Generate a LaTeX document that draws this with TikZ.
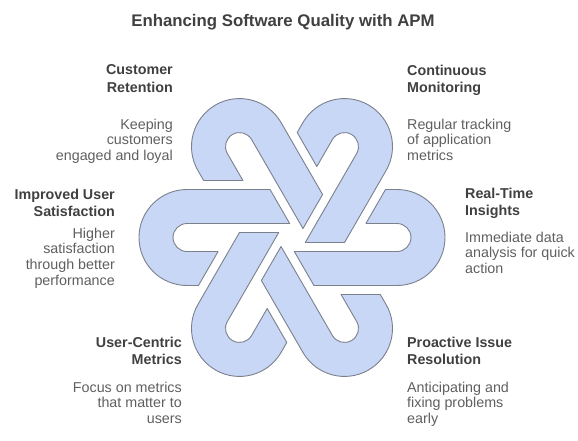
\documentclass[tikz,border=0pt]{standalone}
\usepackage{fontspec}
\setmainfont{Liberation Sans}
\usetikzlibrary{positioning}

\definecolor{hookfill}{RGB}{201,215,246}
\definecolor{hookline}{RGB}{122,128,140}
\definecolor{headgray}{RGB}{64,64,64}
\definecolor{descgray}{RGB}{95,95,95}

\begin{document}
\begin{tikzpicture}[
  x=1pt, y=1pt,
  hook/.style={
    fill=hookfill,
    draw=hookline,
    line width=0.9pt,
    line join=round
  },
  title/.style={
    font=\fontsize{16.8}{20}\selectfont\bfseries,
    text=headgray,
    inner sep=0pt
  },
  head/.style={
    font=\fontsize{14.3}{17.5}\selectfont\bfseries,
    text=headgray,
    inner sep=0pt
  },
  desc/.style={
    font=\fontsize{14.3}{15.8}\selectfont,
    text=descgray,
    inner sep=0pt
  }
]
\useasboundingbox (-292,-202.5) rectangle (286,237.5);
\foreach \k in {0,...,5}{
  \draw[hook,rotate=60*\k] (-21.94,48) -- (-105,48)
    arc[start angle=90,end angle=270,radius=48] -- (-93.53,-48) -- (-73.90,-14) -- (-105,-14)
    arc[start angle=270,end angle=90,radius=14] -- (-2.31,14) -- cycle;
}
\node[title,anchor=base] (title) at (-9,211.5) {Enhancing Software Quality with APM};
\node[head,align=right,anchor=north east] (retention) at (-119,173) {Customer\\Retention};
\node[desc,align=right,anchor=north east] (retentiontxt) at (-119,119) {Keeping\\customers\\engaged and loyal};
\node[head,align=left,anchor=north west] (monitoring) at (115,173) {Continuous\\Monitoring};
\node[desc,align=left,anchor=north west] (monitoringtxt) at (115,119) {Regular tracking\\of application\\metrics};
\node[head,align=right,anchor=north east] (satisfaction) at (-177,49) {Improved User\\Satisfaction};
\node[desc,align=right,anchor=north east] (satisfactiontxt) at (-177,10) {Higher\\satisfaction\\through better\\performance};
\node[head,align=left,anchor=north west] (insights) at (173,50) {Real-Time\\Insights};
\node[desc,align=left,anchor=north west] (insightstxt) at (173,6) {Immediate data\\analysis for quick\\action};
\node[head,align=right,anchor=north east] (metrics) at (-110,-99) {User-Centric\\Metrics};
\node[desc,align=right,anchor=north east] (metricstxt) at (-110,-144) {Focus on metrics\\that matter to\\users};
\node[head,align=left,anchor=north west] (resolution) at (115,-99) {Proactive Issue\\Resolution};
\node[desc,align=left,anchor=north west] (resolutiontxt) at (115,-144) {Anticipating and\\fixing problems\\early};
\end{tikzpicture}
\end{document}
